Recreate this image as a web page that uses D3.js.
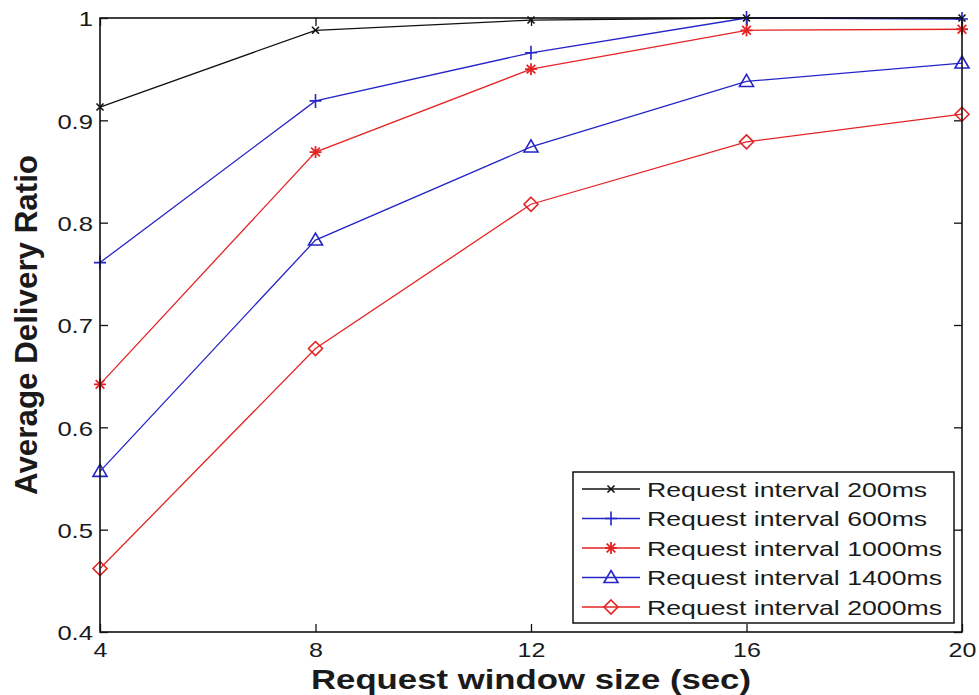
<!DOCTYPE html>
<html>
<head>
<meta charset="utf-8">
<script src="https://cdn.jsdelivr.net/npm/d3@7"></script>
<style>
  html, body { margin: 0; padding: 0; background: #fff; }
  svg { display: block; }
  text { font-family: Arial, "Liberation Sans", sans-serif; fill: #1a1a1a; }
</style>
</head>
<body>
<svg id="chart" width="979" height="695"></svg>
<script>
// ---- data ----
const windowSizes = [4, 8, 12, 16, 20];
const interval200 = [0.913, 0.988, 0.998, 1.0, 1.0];
const interval600 = [0.761, 0.919, 0.966, 1.0, 0.999];
const interval1000 = [0.642, 0.869, 0.950, 0.988, 0.989];
const interval1400 = [0.557, 0.783, 0.874, 0.938, 0.956];
const interval2000 = [0.462, 0.677, 0.818, 0.879, 0.906];
const seriesNames = ["Request interval 200ms", "Request interval 600ms", "Request interval 1000ms", "Request interval 1400ms", "Request interval 2000ms"];
const xTicks = [4, 8, 12, 16, 20];
const yTicks = [0.4, 0.5, 0.6, 0.7, 0.8, 0.9, 1];
const xLabel = "Request window size (sec)";
const yLabel = "Average Delivery Ratio";

const seriesValues = [interval200, interval600, interval1000, interval1400, interval2000];
const colors = ["#111111", "#2424c8", "#e42424", "#2424c8", "#e42424"];
const markers = ["x", "plus", "star", "triangle", "diamond"];

const svg = d3.select("#chart");
const L = 100, R = 962, T = 18, B = 632;
const x = d3.scaleLinear().domain([4, 20]).range([L, R]);
const y = d3.scaleLinear().domain([0.4, 1]).range([B, T]);

function stretch(sel, k) {
  sel.each(function () {
    const w = this.getComputedTextLength();
    d3.select(this).attr("textLength", w * k).attr("lengthAdjust", "spacingAndGlyphs");
  });
}

// axes
const gL = svg.append("g").attr("transform", `translate(${L},0)`)
  .call(d3.axisLeft(y).tickValues(yTicks).tickFormat(d3.format("")).tickSizeInner(-8).tickSizeOuter(0).tickPadding(7));
const gB = svg.append("g").attr("transform", `translate(0,${B})`)
  .call(d3.axisBottom(x).tickValues(xTicks).tickSizeInner(-8).tickSizeOuter(0).tickPadding(11));
const gT = svg.append("g").attr("transform", `translate(0,${T})`)
  .call(d3.axisTop(x).tickValues(xTicks).tickFormat("").tickSizeInner(-8).tickSizeOuter(0));
const gR = svg.append("g").attr("transform", `translate(${R},0)`)
  .call(d3.axisRight(y).tickValues(yTicks).tickFormat("").tickSizeInner(-8).tickSizeOuter(0));
[gL, gB, gT, gR].forEach(g => {
  g.select(".domain").remove();
  g.selectAll(".tick line").attr("stroke", "#111").attr("stroke-width", 1.3);
  g.selectAll("text").style("font-size", "21px").attr("fill", "#1a1a1a")
    .style("font-family", 'Arial, "Liberation Sans", sans-serif');
});
gB.selectAll(".tick text").style("font-size", "20px");
gL.selectAll(".tick text").attr("dy", "0.38em");
stretch(gL.selectAll(".tick text"), 1.22);
stretch(gB.selectAll(".tick text"), 1.25);

// lines and markers
const line = d3.line().x((d, i) => x(windowSizes[i])).y(d => y(d));
function drawMarker(g, type, cx, cy, color) {
  if (type === "x") {
    g.append("path").attr("d", `M${cx - 3.5},${cy - 3.5}L${cx + 3.5},${cy + 3.5}M${cx - 3.5},${cy + 3.5}L${cx + 3.5},${cy - 3.5}`)
      .attr("stroke", color).attr("stroke-width", 1.6).attr("fill", "none");
  } else if (type === "plus") {
    g.append("path").attr("d", `M${cx - 6},${cy}L${cx + 6},${cy}M${cx},${cy - 7}L${cx},${cy + 7}`)
      .attr("stroke", color).attr("stroke-width", 1.6).attr("fill", "none");
  } else if (type === "star") {
    const r = 6;
    let d = `M${cx - r},${cy}L${cx + r},${cy}M${cx},${cy - r}L${cx},${cy + r}`;
    const q = r * 0.72;
    d += `M${cx - q},${cy - q}L${cx + q},${cy + q}M${cx - q},${cy + q}L${cx + q},${cy - q}`;
    g.append("path").attr("d", d).attr("stroke", color).attr("stroke-width", 1.8).attr("fill", "none");
  } else if (type === "triangle") {
    g.append("path").attr("d", `M${cx},${cy - 7}L${cx + 7},${cy + 5}L${cx - 7},${cy + 5}Z`)
      .attr("stroke", color).attr("stroke-width", 1.6).attr("fill", "none");
  } else if (type === "diamond") {
    g.append("path").attr("d", `M${cx},${cy - 7}L${cx + 7},${cy}L${cx},${cy + 7}L${cx - 7},${cy}Z`)
      .attr("stroke", color).attr("stroke-width", 1.6).attr("fill", "none");
  }
}

const plot = svg.append("g");
seriesValues.forEach((vals, si) => {
  plot.append("path").datum(vals).attr("d", line)
    .attr("fill", "none").attr("stroke", colors[si]).attr("stroke-width", 1.3);
  const mg = plot.append("g");
  vals.forEach((v, i) => drawMarker(mg, markers[si], x(windowSizes[i]), y(v), colors[si]));
});

// frame
svg.append("rect").attr("x", L).attr("y", T).attr("width", R - L).attr("height", B - T)
  .attr("fill", "none").attr("stroke", "#111").attr("stroke-width", 1.6);

// legend
const lg = svg.append("g");
lg.append("rect").attr("x", 573).attr("y", 472).attr("width", 381).attr("height", 151)
  .attr("fill", "#fff").attr("stroke", "#111").attr("stroke-width", 1.5);
const rowY = d3.scalePoint().domain(d3.range(seriesNames.length)).range([489, 607]);
seriesNames.forEach((name, i) => {
  const yy = rowY(i);
  lg.append("line").attr("x1", 582).attr("x2", 640).attr("y1", yy).attr("y2", yy)
    .attr("stroke", colors[i]).attr("stroke-width", 1.3);
  drawMarker(lg, markers[i], 611, yy, colors[i]);
  lg.append("text").attr("x", 647).attr("y", yy).attr("dy", "0.36em")
    .style("font-size", "21px").text(name);
});
stretch(lg.selectAll("text"), 1.27);

// axis labels
svg.append("text").attr("x", (L + R) / 2).attr("y", 689).attr("text-anchor", "middle")
  .style("font-size", "28px").style("font-weight", "bold").attr("fill", "#111")
  .attr("textLength", 440).attr("lengthAdjust", "spacingAndGlyphs").text(xLabel);
svg.append("text").attr("transform", `translate(37,${(T + B) / 2}) rotate(-90)`).attr("text-anchor", "middle")
  .style("font-size", "31px").style("font-weight", "bold").attr("fill", "#111")
  .attr("textLength", 340).attr("lengthAdjust", "spacingAndGlyphs").text(yLabel);
</script>
</body>
</html>
